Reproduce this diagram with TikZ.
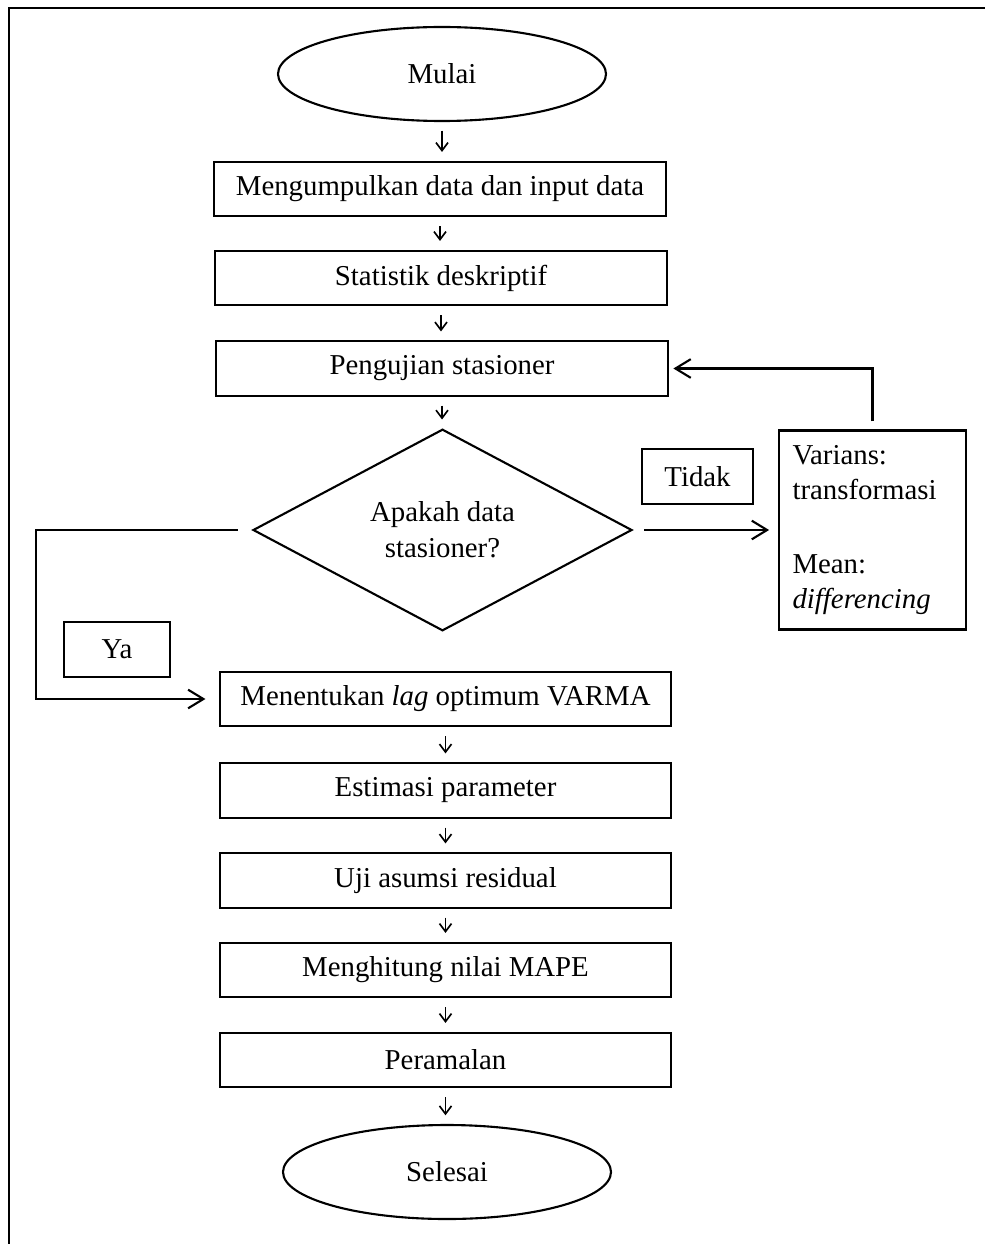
\documentclass[tikz,border=0pt]{standalone}
\usepackage{fontspec}
\setmainfont{Liberation Serif}
\usetikzlibrary{shapes.geometric,arrows.meta}

\tikzset{
    proses/.style={draw, rectangle, minimum width=6.77cm, minimum height=0.82cm, inner sep=0pt},
    terminal/.style={draw, ellipse, minimum width=4.92cm, minimum height=1.41cm, inner sep=0pt},
    label box/.style={draw, rectangle, minimum height=0.82cm, inner sep=0pt},
    panah/.style={-{Straight Barb[length=1.2mm,width=1.8mm]}, line width=0.7pt, shorten <=1.3mm, shorten >=1.3mm},
    panahb/.style={-{Straight Barb[length=2.3mm,width=2.8mm]}}
}

\begin{document}
\begin{tikzpicture}[x=0.015cm, y=-0.015cm, line width=0.9pt, font=\fontsize{12.3}{15.5}\selectfont]
    \useasboundingbox (0,0) rectangle (985,1244);
    % frame
    \draw[line width=1.1pt] (9,1244) -- (9,8) -- (985,8);

    \node[terminal] (mulai) at (442,74) {Mulai};
    \node[proses] (kumpul) at (440,189) {Mengumpulkan data dan input data};
    \node[proses] (statistik) at (441,278) {Statistik deskriptif};
    \node[proses] (uji) at (442,368.5) {Pengujian stasioner};
    \node[draw, diamond, minimum width=5.685cm, minimum height=2.94cm, inner sep=0pt, align=center] (cek) at (442.5,530) {Apakah data\\stasioner?};
    \node[label box, minimum width=1.665cm] (tidak) at (697.5,476.5) {Tidak};
    \node[draw, rectangle, text width=2.4cm, inner xsep=0.2cm, minimum height=2.985cm, align=left,
        font=\fontsize{12.3}{15}\selectfont] (ubah) at (872.5,530)
        {Varians:\\transformasi\\[16.5pt]Mean:\\\textit{differencing}};
    \node[label box, minimum width=1.59cm] (ya) at (117,649.5) {Ya};
    \node[proses] (lag) at (445.5,699) {Menentukan \textit{lag} optimum VARMA};
    \node[proses] (estimasi) at (445.5,790.5) {Estimasi parameter};
    \node[proses] (residual) at (445.5,880.5) {Uji asumsi residual};
    \node[proses] (mape) at (445.5,970) {Menghitung nilai MAPE};
    \node[proses] (ramal) at (445.5,1060) {Peramalan};
    \node[terminal] (selesai) at (447,1172) {Selesai};
    \coordinate (kiri) at (36,699);

    % alur utama
    \draw[panah] (mulai.south) -- (mulai.south |- kumpul.north);
    \draw[panah] (kumpul.south) -- (kumpul.south |- statistik.north);
    \draw[panah] (statistik.south) -- (statistik.south |- uji.north);
    \draw[panah] (uji.south) -- (uji.south |- cek.north);
    \draw[panah] (lag.south) -- (lag.south |- estimasi.north);
    \draw[panah] (estimasi.south) -- (estimasi.south |- residual.north);
    \draw[panah] (residual.south) -- (residual.south |- mape.north);
    \draw[panah] (mape.south) -- (mape.south |- ramal.north);
    \draw[panah] (ramal.south) -- (ramal.south |- selesai.north);

    % cabang
    \draw[panahb, shorten <=1.65mm, shorten >=1.35mm] (cek.east) -- (ubah.west);
    \draw[panahb, shorten <=1.2mm, shorten >=0.7mm] (ubah.north) |- (uji.east);
    \draw[panahb, shorten <=2.1mm, shorten >=2mm] (cek.west) -| (kiri) -- (lag.west);
\end{tikzpicture}
\end{document}
